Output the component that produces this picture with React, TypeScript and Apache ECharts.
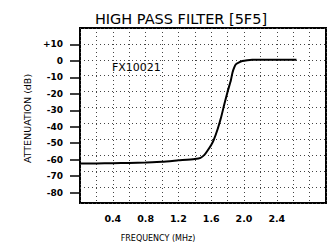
import React, { useEffect, useRef } from "react";
import * as echarts from "echarts";

const titleText = "HIGH PASS FILTER [5F5]";
const curveLabel = "FX10021";
const xName = "FREQUENCY (MHz)";
const yName = "ATTENUATION (dB)";

// frequency (MHz) and attenuation (dB)
const freq = [0, 0.2, 0.4, 0.6, 0.8, 1.0, 1.2, 1.4, 1.47, 1.52, 1.55, 1.6, 1.63, 1.68, 1.72, 1.76, 1.8, 1.84, 1.86, 1.88, 1.9, 1.94, 1.98, 2.04, 2.1, 2.2, 2.4, 2.64];
const atten = [-65.2, -65.1, -65.0, -64.8, -64.5, -64.1, -63.2, -62.3, -61.6, -59.6, -57.5, -53.5, -50.5, -43.3, -36.3, -28, -20, -12.8, -7.9, -4.9, -2.9, -1.6, -0.8, -0.3, 0, 0.1, 0.1, 0.1];

const xTickLabels = ["0.4", "0.8", "1.2", "1.6", "2.0", "2.4"];
const yTickLabels = ["+10", "0", "-10", "-20", "-30", "-40", "-50", "-60", "-70", "-80"];

const X_MIN = 0, X_MAX = 3.0, X_STEP = 0.2;
const Y_MIN = -90, Y_MAX = 20, Y_STEP = 10;

export default function App() {
  const ref = useRef<HTMLDivElement>(null);
  useEffect(() => {
    if (!ref.current) return;
    const chart = echarts.init(ref.current, null, { renderer: "svg" });
    const top = 28, bottom = 38, left = 80, right = 10;
    const plotH = 247 - top - bottom;
    const unit = plotH / ((Y_MAX - Y_MIN) / Y_STEP);
    const grid = { color: "#444", type: [1, 3] as number[], width: 1 };
    chart.setOption({
      animation: false,
      backgroundColor: "#fff",
      textStyle: { fontFamily: "DejaVu Sans", color: "#000" },
      title: {
        text: titleText,
        left: 176,
        textAlign: "center",
        top: 6,
        textStyle: { fontSize: 14.5, fontWeight: "normal", color: "#000", fontFamily: "DejaVu Sans" },
      },
      grid: [
        { left, right, top, bottom, show: true, borderColor: "#000", borderWidth: 2, backgroundColor: "transparent" },
        { left, right, top: top + unit, bottom: bottom + unit, show: false },
      ],
      xAxis: [
        {
          type: "value", gridIndex: 0, min: X_MIN, max: X_MAX, interval: X_STEP,
          axisLine: { show: false }, axisTick: { show: false },
          splitLine: { show: true, lineStyle: grid },
          axisLabel: {
            margin: 10, fontSize: 9.5, fontWeight: "bold", color: "#000",
            formatter: (v: number) => {
              const s = (Math.round(v * 10) / 10).toFixed(1);
              return xTickLabels.includes(s) ? s : "";
            },
          },
          name: xName, nameLocation: "middle", nameGap: 31,
          nameTextStyle: { fontSize: 8, color: "#000", padding: [0, 90, 0, 0] },
        },
        { type: "value", gridIndex: 1, min: X_MIN, max: X_MAX, show: false },
      ],
      yAxis: [
        {
          type: "value", gridIndex: 0, min: Y_MIN, max: Y_MAX, interval: Y_STEP,
          axisLine: { show: false }, axisTick: { show: false }, axisLabel: { show: false },
          splitLine: { show: true, lineStyle: grid },
        },
        {
          type: "value", gridIndex: 1, min: -80, max: 10, interval: Y_STEP,
          axisLine: { show: false }, splitLine: { show: false },
          axisTick: { show: true, inside: false, length: 10, lineStyle: { color: "#000", width: 1.5 } },
          axisLabel: {
            margin: 17, fontSize: 9, fontWeight: "bold", color: "#000",
            formatter: (v: number) => {
              const s = v > 0 ? "+" + v : String(v);
              return yTickLabels.includes(s) ? s : "";
            },
          },
          name: yName, nameLocation: "middle", nameGap: 41,
          nameTextStyle: { fontSize: 9.5, color: "#000" },
        },
      ],
      graphic: [
        { type: "text", left: 112, top: 62, style: { text: curveLabel, fontSize: 11, fill: "#000", fontFamily: "DejaVu Sans" } },
      ],
      series: [
        {
          type: "line", xAxisIndex: 0, yAxisIndex: 0,
          data: freq.map((f, i) => [f, atten[i]]),
          showSymbol: false, smooth: 0.2,
          lineStyle: { color: "#000", width: 2 },
        },
      ],
    });
    return () => chart.dispose();
  }, []);
  return <div ref={ref} style={{ position: "fixed", left: 0, top: 0, width: 336, height: 247 }} />;
}
